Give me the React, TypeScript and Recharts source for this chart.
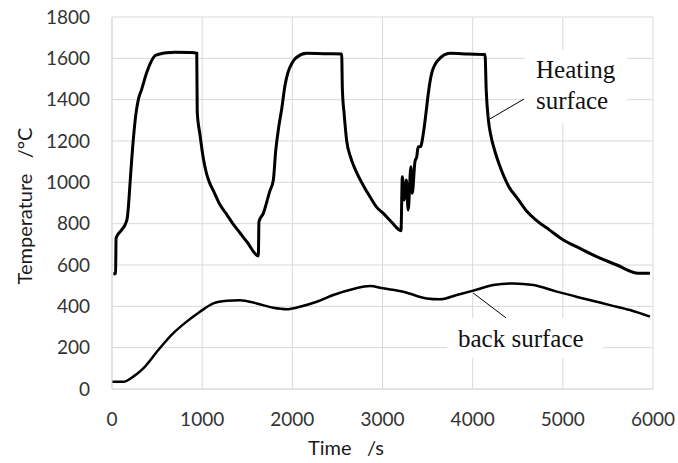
import { CartesianGrid, Line, LineChart, ReferenceLine, XAxis, YAxis } from "recharts";

// heating surface thermocouple (time in s, temperature in °C)
const heatingTime = [
  15, 40, 45, 107, 150, 170, 185, 200, 236, 265, 292, 329, 384, 430, 477, 520, 606, 700, 860, 940,
  945, 976, 1013, 1050, 1085, 1124, 1200, 1272, 1340, 1420, 1500, 1623,
  1630, 1678, 1752, 1789, 1815, 1850, 1882, 1919, 1950, 2000, 2048, 2159, 2350, 2547,
  2555, 2575, 2603, 2640, 2700, 2787, 2861, 2935, 3009, 3100, 3205,
  3220, 3240, 3265, 3285, 3315, 3330, 3360, 3380, 3395, 3420, 3453, 3482, 3508, 3545, 3619, 3749, 3950, 4137,
  4150, 4175, 4200, 4240, 4300, 4400, 4500, 4600, 4710, 4850, 5006, 5200, 5375, 5600, 5837, 5967,
];
const heatingTemp = [
  556, 560, 730, 770, 800, 830, 900, 995, 1205, 1330, 1400, 1450, 1530, 1580, 1613, 1620, 1627, 1630, 1628, 1625,
  1342, 1230, 1115, 1040, 995, 960, 890, 845, 800, 755, 710, 644,
  810, 850, 960, 1010, 1150, 1270, 1355, 1470, 1530, 1580, 1605, 1624, 1622, 1621,
  1450, 1330, 1200, 1130, 1060, 985, 930, 880, 850, 808, 766,
  1027, 915, 1011, 866, 1075, 947, 1100, 1124, 1172, 1172, 1237, 1334, 1430, 1527, 1592, 1624, 1621, 1619,
  1450, 1300, 1230, 1160, 1080, 980, 920, 860, 815, 770, 721, 678, 640, 600, 560, 560,
];

// back surface thermocouple
const backTime = [
  0, 125, 236, 347, 514, 680, 828, 976, 1124, 1272, 1420, 1605, 1789, 1937, 2085, 2270, 2455, 2676, 2861,
  3009, 3231, 3490, 3638, 3823, 4007, 4229, 4451, 4673, 4932, 5227, 5523, 5745, 5967,
];
const backTemp = [
  35, 35, 60, 100, 189, 270, 326, 374, 414, 427, 430, 414, 393, 386, 398, 422, 455, 484, 498,
  487, 471, 438, 434, 455, 476, 503, 511, 503, 471, 438, 406, 382, 350,
];

const xTicks = [0, 1000, 2000, 3000, 4000, 5000, 6000];
const yTicks = [0, 200, 400, 600, 800, 1000, 1200, 1400, 1600, 1800];

const heatingData = heatingTime.map((t, i) => ({ t, temp: heatingTemp[i] }));
const backData = backTime.map((t, i) => ({ t, temp: backTemp[i] }));

const tickStyle = { fill: "#333", fontSize: 19, fontFamily: "Lato" };
const serif = { fontFamily: "'Liberation Serif', serif", fontSize: 25, lineHeight: "31px", color: "#111" };

export default function App() {
  return (
    <div style={{ position: "absolute", left: 0, top: 0, width: 678, height: 463, background: "#fff" }}>
      <LineChart width={678} height={463} margin={{ top: 17, right: 25, left: 0, bottom: 0 }}>
        <CartesianGrid stroke="#d9d9d9" />
        <XAxis
          dataKey="t"
          type="number"
          domain={[0, 6000]}
          ticks={xTicks}
          interval={0}
          height={74}
          tickLine={false}
          tickMargin={18}
          axisLine={{ stroke: "#d9d9d9" }}
          tick={tickStyle}
          allowDuplicatedCategory={false}
        />
        <YAxis
          type="number"
          domain={[0, 1800]}
          ticks={yTicks}
          interval={0}
          width={112}
          tickLine={false}
          tickMargin={16}
          axisLine={{ stroke: "#d9d9d9" }}
          tick={tickStyle}
        />
        <Line data={heatingData} dataKey="temp" type="monotone" stroke="#000" strokeWidth={3} dot={false} isAnimationActive={false} />
        <Line data={backData} dataKey="temp" type="monotone" stroke="#000" strokeWidth={2.5} dot={false} isAnimationActive={false} />
        <ReferenceLine segment={[{ x: 4569, y: 1403 }, { x: 4192, y: 1307 }]} stroke="#000" strokeWidth={1} />
        <ReferenceLine segment={[{ x: 4004, y: 465 }, { x: 4370, y: 344 }]} stroke="#000" strokeWidth={1} />
      </LineChart>

      <div style={{ position: "absolute", left: 525, top: 50, width: 102, height: 73, background: "#fff", boxSizing: "border-box", paddingTop: 4, paddingLeft: 11, ...serif }}>
        Heating
        <br />
        surface
      </div>
      <div style={{ position: "absolute", left: 447, top: 318, width: 156, height: 40, background: "#fff", boxSizing: "border-box", paddingTop: 5, paddingLeft: 11, whiteSpace: "nowrap", ...serif }}>
        back surface
      </div>

      <div
        style={{
          position: "absolute",
          left: 24,
          top: 206,
          transform: "translate(-50%, -50%) rotate(-90deg)",
          whiteSpace: "pre",
          fontFamily: "Lato",
          fontSize: 20,
          color: "#1a1a1a",
        }}
      >
        {"Temperature   /\u00B0C"}
      </div>
      <div style={{ position: "absolute", left: 308, top: 435, whiteSpace: "pre", fontFamily: "Lato", fontSize: 20, color: "#1a1a1a" }}>
        {"Time   /s"}
      </div>
    </div>
  );
}
